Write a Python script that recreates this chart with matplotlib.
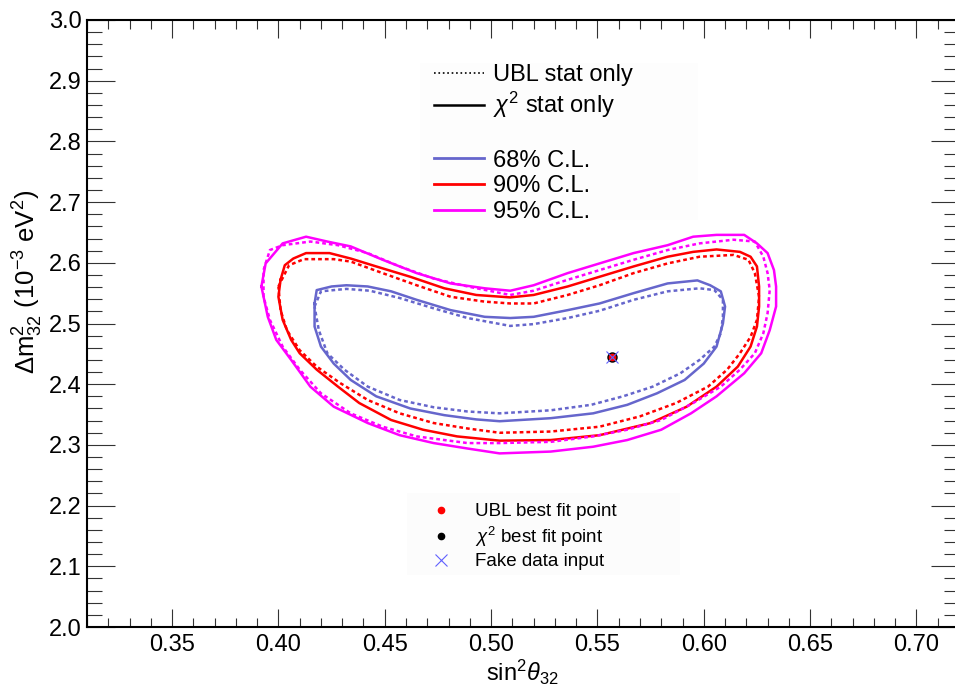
import numpy as np
import matplotlib
matplotlib.use("Agg")
import matplotlib.pyplot as plt
from matplotlib.lines import Line2D
from matplotlib.patches import Rectangle
from matplotlib.ticker import MultipleLocator, FormatStrFormatter

plt.rcParams['font.family'] = ['Liberation Sans', 'DejaVu Sans']
plt.rcParams['mathtext.fontset'] = 'custom'
plt.rcParams['mathtext.rm'] = 'Liberation Sans'
plt.rcParams['mathtext.it'] = 'Liberation Sans:italic'
plt.rcParams['mathtext.bf'] = 'Liberation Sans:bold'

# contours: (sin^2 theta_32, dm^2_32 [1e-3 eV^2])
# 68% C.L.
chi68_x = [0.417, 0.418, 0.425, 0.432, 0.442, 0.453, 0.465, 0.481, 0.497, 0.509, 0.520, 0.536, 0.551, 0.567, 0.583, 0.597, 0.603, 0.608,
           0.610, 0.609, 0.606, 0.600, 0.591, 0.578, 0.564, 0.548, 0.528, 0.504, 0.493, 0.478, 0.462, 0.446, 0.434, 0.426, 0.420, 0.417]
chi68_y = [2.533, 2.555, 2.561, 2.563, 2.561, 2.553, 2.539, 2.522, 2.511, 2.509, 2.511, 2.522, 2.533, 2.550, 2.566, 2.571, 2.563, 2.553,
           2.528, 2.500, 2.462, 2.434, 2.407, 2.385, 2.366, 2.352, 2.344, 2.339, 2.342, 2.349, 2.360, 2.380, 2.407, 2.434, 2.462, 2.495]
ubl68_x = [0.417, 0.420, 0.432, 0.443, 0.457, 0.473, 0.489, 0.509, 0.520, 0.536, 0.551, 0.567, 0.583, 0.598, 0.605, 0.609, 0.609,
           0.608, 0.605, 0.598, 0.589, 0.576, 0.562, 0.547, 0.528, 0.504, 0.489, 0.473, 0.457, 0.442, 0.431, 0.423, 0.419]
ubl68_y = [2.528, 2.553, 2.557, 2.554, 2.542, 2.525, 2.509, 2.496, 2.499, 2.509, 2.521, 2.539, 2.553, 2.558, 2.555, 2.539, 2.511,
           2.484, 2.462, 2.440, 2.418, 2.396, 2.380, 2.366, 2.357, 2.352, 2.355, 2.362, 2.374, 2.396, 2.424, 2.451, 2.489]
# 90% C.L.
chi90_x = [0.401, 0.403, 0.407, 0.413, 0.424, 0.434, 0.446, 0.462, 0.478, 0.493, 0.509, 0.520, 0.536, 0.551, 0.567, 0.583, 0.595, 0.606, 0.617, 0.622, 0.625,
           0.626, 0.626, 0.625, 0.622, 0.616, 0.606, 0.592, 0.575, 0.551, 0.528, 0.504, 0.484, 0.468, 0.453, 0.438, 0.428, 0.418, 0.410, 0.406, 0.402, 0.400]
chi90_y = [2.572, 2.596, 2.607, 2.616, 2.616, 2.607, 2.594, 2.577, 2.558, 2.547, 2.543, 2.547, 2.561, 2.577, 2.594, 2.610, 2.618, 2.622, 2.618, 2.610, 2.594,
           2.561, 2.528, 2.495, 2.462, 2.429, 2.396, 2.363, 2.336, 2.316, 2.308, 2.307, 2.314, 2.325, 2.341, 2.369, 2.396, 2.424, 2.451, 2.473, 2.506, 2.544]
ubl90_x = [0.400, 0.405, 0.412, 0.426, 0.434, 0.449, 0.465, 0.481, 0.497, 0.509, 0.520, 0.536, 0.551, 0.567, 0.583, 0.598, 0.614, 0.621, 0.624, 0.626,
           0.625, 0.622, 0.617, 0.611, 0.602, 0.587, 0.570, 0.551, 0.528, 0.504, 0.489, 0.473, 0.457, 0.442, 0.429, 0.418, 0.410, 0.404, 0.401]
ubl90_y = [2.561, 2.596, 2.606, 2.606, 2.602, 2.583, 2.563, 2.544, 2.536, 2.533, 2.533, 2.547, 2.563, 2.583, 2.599, 2.610, 2.613, 2.605, 2.583, 2.544,
           2.506, 2.478, 2.451, 2.424, 2.396, 2.369, 2.347, 2.330, 2.322, 2.320, 2.327, 2.336, 2.352, 2.374, 2.402, 2.429, 2.456, 2.489, 2.522]
# 95% C.L.
chi95_x = [0.392, 0.394, 0.402, 0.413, 0.423, 0.434, 0.449, 0.465, 0.481, 0.497, 0.509, 0.520, 0.536, 0.551, 0.567, 0.583, 0.595, 0.606, 0.619, 0.625, 0.630, 0.633,
           0.634, 0.634, 0.631, 0.627, 0.619, 0.606, 0.594, 0.580, 0.564, 0.548, 0.528, 0.504, 0.489, 0.473, 0.457, 0.442, 0.426, 0.415, 0.406, 0.399, 0.395]
chi95_y = [2.561, 2.599, 2.632, 2.643, 2.635, 2.627, 2.605, 2.583, 2.566, 2.558, 2.554, 2.563, 2.583, 2.599, 2.616, 2.629, 2.643, 2.646, 2.646, 2.632, 2.616, 2.588,
           2.561, 2.528, 2.489, 2.451, 2.418, 2.380, 2.352, 2.325, 2.308, 2.297, 2.289, 2.286, 2.294, 2.303, 2.316, 2.336, 2.363, 2.396, 2.440, 2.473, 2.511]
ubl95_x = [0.393, 0.393, 0.396, 0.402, 0.415, 0.428, 0.442, 0.457, 0.473, 0.489, 0.509, 0.520, 0.536, 0.551, 0.567, 0.583, 0.598, 0.614, 0.624, 0.628, 0.630,
           0.631, 0.630, 0.628, 0.624, 0.617, 0.608, 0.595, 0.580, 0.564, 0.548, 0.528, 0.504, 0.489, 0.465, 0.449, 0.434, 0.420, 0.410, 0.402, 0.396]
ubl95_y = [2.544, 2.588, 2.621, 2.629, 2.635, 2.629, 2.616, 2.594, 2.574, 2.561, 2.547, 2.554, 2.572, 2.588, 2.605, 2.621, 2.632, 2.638, 2.635, 2.610, 2.583,
           2.555, 2.517, 2.484, 2.451, 2.424, 2.396, 2.369, 2.341, 2.325, 2.314, 2.305, 2.303, 2.303, 2.314, 2.330, 2.352, 2.385, 2.424, 2.462, 2.506]

best_fit_x = 0.557
best_fit_y = 2.445

cl_labels = ['68% C.L.', '90% C.L.', '95% C.L.']
cl_colors = ['#6666cc', '#ff0000', '#ff00ff']

fig = plt.figure(figsize=(9.55, 6.85), dpi=100)
ax = fig.add_axes([87 / 955, 1 - 627 / 685, 872 / 955, 607 / 685])

# faint legend backgrounds
ax.add_patch(Rectangle((420 / 955, 1 - 220 / 685), 278 / 955, 157 / 685, transform=fig.transFigure,
                       facecolor='#fdfdfd', edgecolor='none', zorder=0))
ax.add_patch(Rectangle((407 / 955, 1 - 575 / 685), 273 / 955, 82 / 685, transform=fig.transFigure,
                       facecolor='#fcfcfc', edgecolor='none', zorder=0))

dotted = (0, (1.5, 1.2))
contours = [(chi68_x, chi68_y, ubl68_x, ubl68_y),
            (chi90_x, chi90_y, ubl90_x, ubl90_y),
            (chi95_x, chi95_y, ubl95_x, ubl95_y)]
for (cx, cy, ux, uy), col in zip(contours, cl_colors):
    ax.plot(np.append(ux, ux[0]), np.append(uy, uy[0]), color=col, lw=1.8, ls=dotted)
    ax.plot(np.append(cx, cx[0]), np.append(cy, cy[0]), color=col, lw=1.8)

ax.plot(best_fit_x, best_fit_y, 'o', color='black', ms=6.5, zorder=5)
ax.plot(best_fit_x, best_fit_y, 'o', color='red', ms=4.5, zorder=6)
ax.plot(best_fit_x, best_fit_y, 'x', color='#6060ff', ms=8.5, mew=0.8, zorder=7)

ax.set_xlim(0.31, 0.72)
ax.set_ylim(2.0, 3.0)
ax.xaxis.set_major_locator(MultipleLocator(0.05))
ax.xaxis.set_minor_locator(MultipleLocator(0.01))
ax.yaxis.set_major_locator(MultipleLocator(0.1))
ax.yaxis.set_minor_locator(MultipleLocator(0.02))
ax.xaxis.set_major_formatter(FormatStrFormatter('%.2f'))
ax.yaxis.set_major_formatter(FormatStrFormatter('%.1f'))
ax.tick_params(which='both', direction='in', top=True, right=True, width=0.8, color='#333333', labelsize=17)
ax.tick_params(axis='x', which='major', length=13, pad=5)
ax.tick_params(axis='x', which='minor', length=6.8)
ax.tick_params(axis='y', which='major', length=20, pad=4)
ax.tick_params(axis='y', which='minor', length=10.5)
for sp in ax.spines.values():
    sp.set_linewidth(1.5)

fig.text(522 / 955, 1 - 672 / 685, r'sin$^2\theta_{32}$', ha='center', va='center', fontsize=17)
fig.text(28 / 955, 1 - 282 / 685, r'$\Delta$m$^2_{32}$ (10$^{-3}$ eV$^2$)', rotation=90,
         ha='center', va='center', fontsize=18.5)

h1 = [Line2D([], [], color='black', lw=1.2, ls=':'),
      Line2D([], [], color='black', lw=1.8),
      Line2D([], [], ls='none')]
l1 = ['UBL stat only', r'$\chi^2$ stat only', ' ']
for lab, col in zip(cl_labels, cl_colors):
    h1.append(Line2D([], [], color=col, lw=2))
    l1.append(lab)
leg1 = ax.legend(h1, l1, loc='upper left', bbox_to_anchor=(434 / 955, 1 - 64 / 685), bbox_transform=fig.transFigure,
                 frameon=False, borderpad=0, borderaxespad=0, handlelength=2.1, handletextpad=0.4,
                 labelspacing=0.16, fontsize=17)
ax.add_artist(leg1)

h2 = [Line2D([], [], ls='none', marker='o', color='red', ms=4.5),
      Line2D([], [], ls='none', marker='o', color='black', ms=4.5),
      Line2D([], [], ls='none', marker='x', color='#6060ff', ms=9, mew=0.8)]
l2 = ['UBL best fit point', r'$\chi^2$ best fit point', 'Fake data input']
ax.legend(h2, l2, loc='upper left', bbox_to_anchor=(425 / 955, 1 - 503 / 685), bbox_transform=fig.transFigure,
          frameon=False, borderpad=0, borderaxespad=0, handlelength=1.7, handletextpad=0.95,
          labelspacing=0.24, fontsize=13.5)

fig.savefig('out.png', dpi=100)
